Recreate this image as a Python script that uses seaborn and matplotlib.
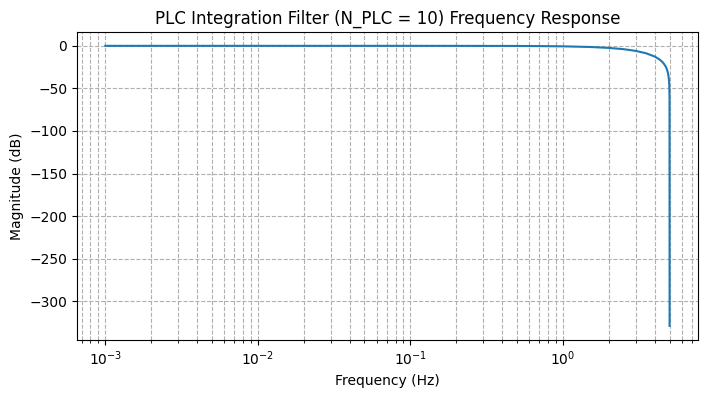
import numpy as np
import seaborn as sns
import matplotlib
matplotlib.use("Agg")
import matplotlib.pyplot as plt

# values
freq_hz = [0.001, 0.01, 0.1, 0.2, 0.5, 0.7, 1.0, 1.5, 2.0, 2.5, 3.0, 3.5,
           4.0, 4.3, 4.5, 4.6, 4.7, 4.75, 4.8, 4.85, 4.9, 4.93, 4.96, 4.98,
           4.995, 5.0]
mag_db = [0.0, 0.0, -0.006, -0.023, -0.14, -0.28, -0.58, -1.33, -2.42, -3.92,
          -5.94, -8.69, -12.6, -16.05, -19.2, -21.3, -23.95, -25.6, -27.6,
          -30.2, -33.8, -36.96, -41.3, -47.9, -60.0, -329.0]

fig = plt.figure(figsize=(7.07, 3.98), dpi=100)
ax = fig.add_subplot(111)
fig.subplots_adjust(left=0.109, right=0.987, bottom=0.146, top=0.92)

sns.lineplot(x=freq_hz, y=mag_db, ax=ax, color="#1f77b4", linewidth=1.5)
ax.set_xscale("log")
ax.set_title("PLC Integration Filter (N_PLC = 10) Frequency Response")
ax.set_xlabel("Frequency (Hz)")
ax.set_ylabel("Magnitude (dB)")
ax.grid(True, which="both", ls="--")

fig.savefig("out.png", dpi=100)
